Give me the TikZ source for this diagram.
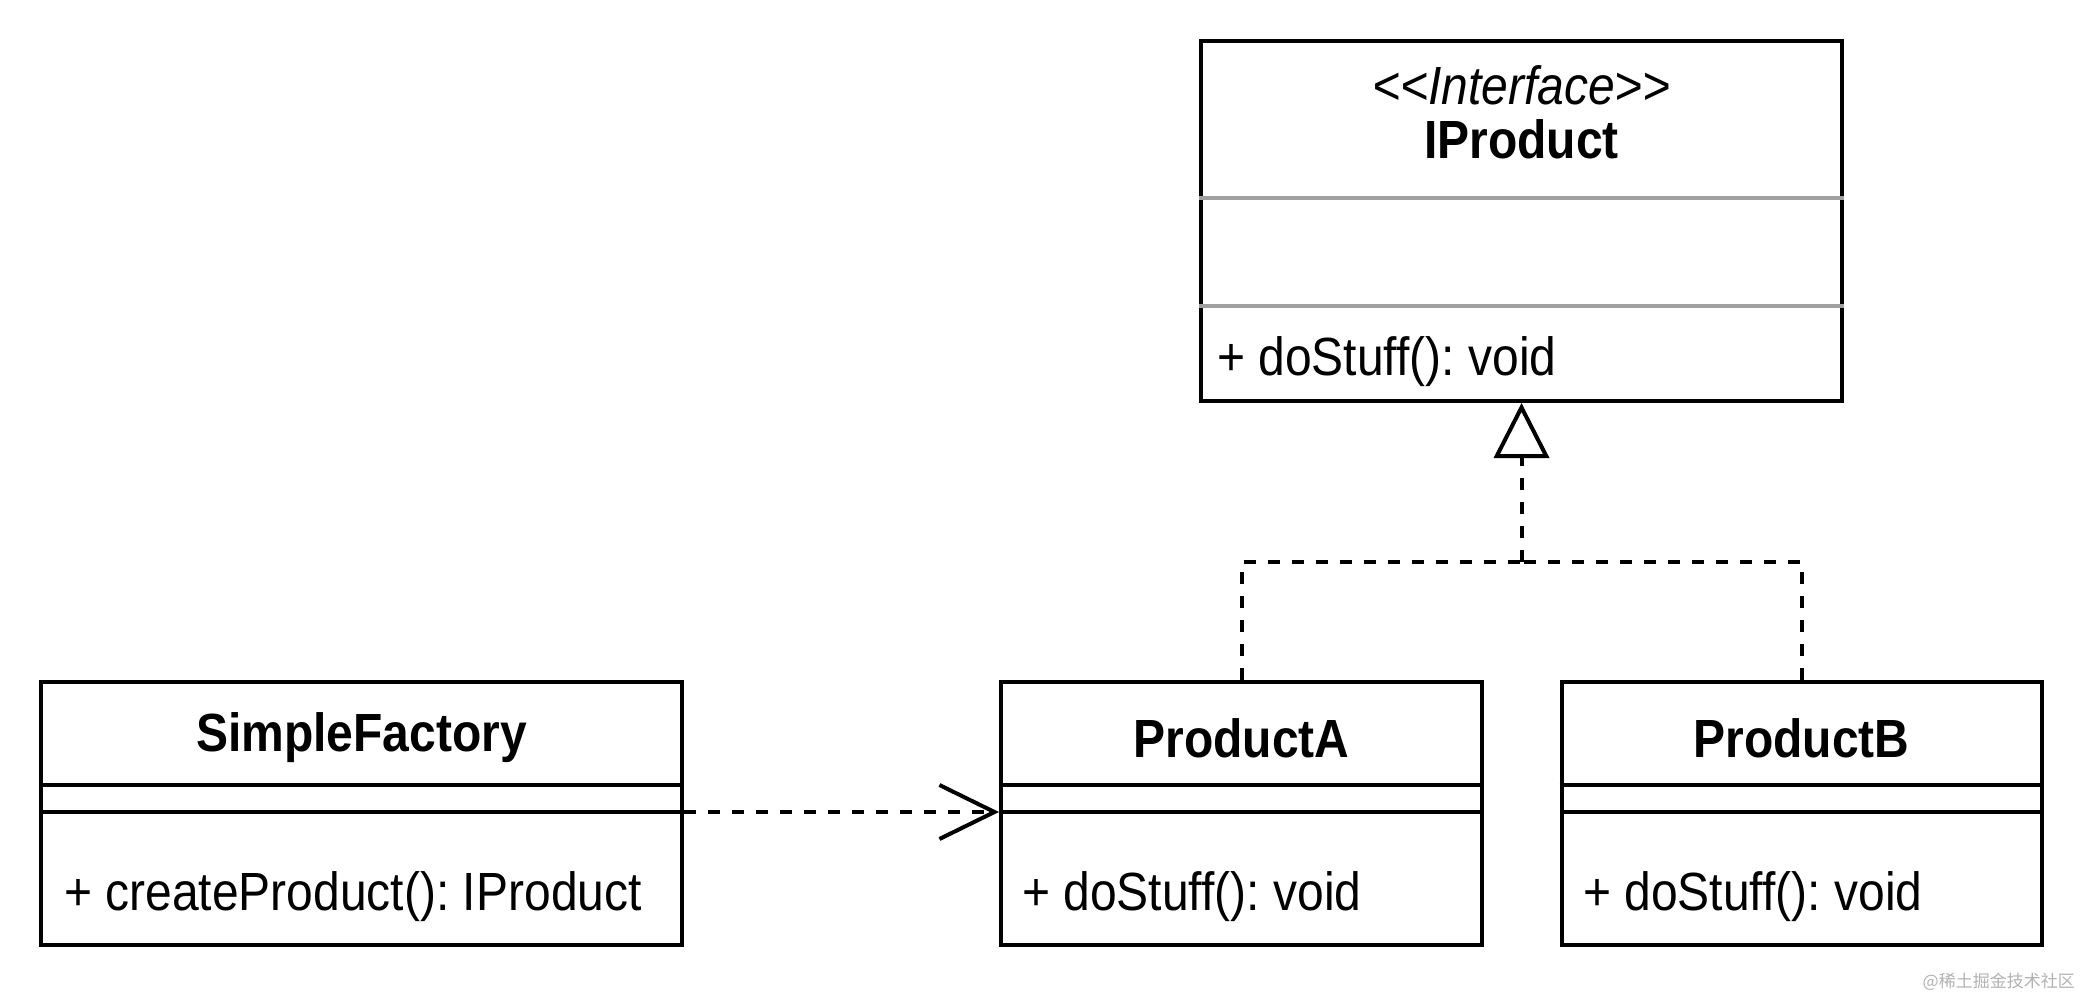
\documentclass[tikz,border=0pt]{standalone}
\usepackage{graphicx}
\usepackage{fontspec}
\setmainfont{Liberation Sans}
\newfontfamily\cjk{Noto Sans CJK SC}
\usetikzlibrary{arrows.meta}
\definecolor{sepgray}{HTML}{A0A0A0}
\newcommand\tallt[1]{\scalebox{1}[1.12]{#1}}
\tikzset{
  classbox/.style={draw=black, line width=4pt, fill=white, rectangle, inner sep=0pt},
  sepline/.style={draw=black, line width=4pt},
  graysep/.style={draw=sepgray, line width=4pt},
  title/.style={font=\bfseries\fontsize{48}{56}\selectfont, inner sep=0pt},
  stereo/.style={font=\itshape\fontsize{48}{54}\selectfont, inner sep=0pt},
  member/.style={font=\fontsize{48}{56}\selectfont, inner sep=0pt, anchor=west},
  dashline/.style={draw=black, line width=4pt, dash pattern=on 12pt off 12pt},
}
\begin{document}
\frenchspacing
\begin{tikzpicture}[x=1pt,y=-1pt]
\useasboundingbox[fill=white] (0,0) rectangle (2084,1000);

% IProduct interface
\node[classbox, minimum width=641pt, minimum height=360pt] (iprod) at (1521.5,221) {};
\node[stereo] (iprodst) at (1521.5,85) {\tallt{<\kern0pt<Interface>\kern0pt>}};
\node[title] (iprodt) at (1521.5,139) {\tallt{IProduct}};
\draw[graysep] (iprod.west |- 0,198) -- (iprod.east |- 0,198);
\draw[graysep] (iprod.west |- 0,306) -- (iprod.east |- 0,306);
\node[member] (iprodm) at (1217,362) {\tallt{+ doStuff(): void}};

% SimpleFactory
\node[classbox, minimum width=641pt, minimum height=263pt] (sf) at (361.5,813.5) {};
\node[title] (sft) at (361.5,738) {\tallt{SimpleFactory}};
\coordinate (sep1) at (0,785);
\coordinate (sep2) at (0,812);
\draw[sepline] (sf.west |- sep1) -- (sf.east |- sep1);
\draw[sepline] (sf.west |- sep2) -- (sf.east |- sep2);
\node[member] (sfm) at (64,897) {\tallt{+ createProduct(): IProduct}};

% ProductA
\node[classbox, minimum width=481pt, minimum height=263pt] (pa) at (1241.5,813.5) {};
\node[title] (pat) at (1241.5,738) {\tallt{ProductA}};
\draw[sepline] (pa.west |- sep1) -- (pa.east |- sep1);
\draw[sepline] (pa.west |- sep2) -- (pa.east |- sep2);
\node[member] (pam) at (1022,897) {\tallt{+ doStuff(): void}};

% ProductB
\node[classbox, minimum width=480pt, minimum height=263pt] (pb) at (1801.5,813.5) {};
\node[title] (pbt) at (1801.5,738) {\tallt{ProductB}};
\draw[sepline] (pb.west |- sep1) -- (pb.east |- sep1);
\draw[sepline] (pb.west |- sep2) -- (pb.east |- sep2);
\node[member] (pbm) at (1583,897) {\tallt{+ doStuff(): void}};

% realization
\coordinate (j) at (1521.5,562);
\draw[dashline] (pa.north) |- (j);
\draw[dashline] (pb.north) |- (j);
\draw[dashline, -{Triangle[open, fill=white, length=55pt, width=55pt]}] (j) -- (iprod.south);

% dependency
\draw[dashline, -{Straight Barb[length=55pt, width=54pt]}] (sf.east |- sep2) -- (pa.west |- sep2);

% watermark
\node[text=black!30, font=\cjk\fontsize{17}{20}\selectfont, inner sep=0pt, anchor=east] (wm) at (2075,982) {@稀土掘金技术社区};
\end{tikzpicture}
\end{document}
